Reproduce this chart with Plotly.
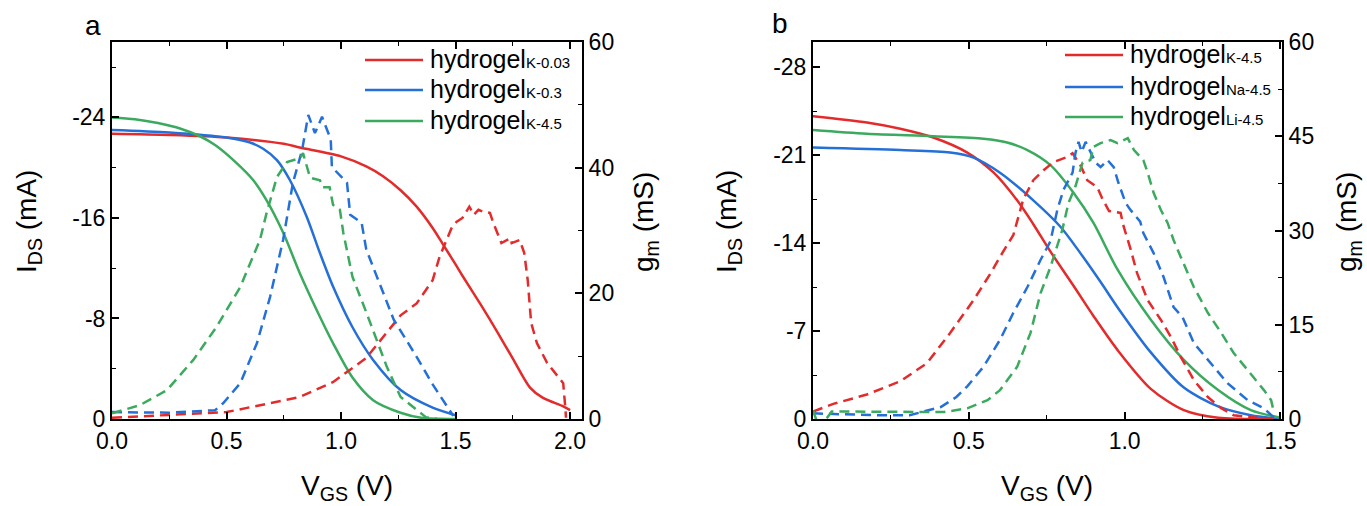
import plotly.graph_objects as go

# ---------------- Panel a data ----------------
# solid: I_DS (mA)
vgs_a_k003_ids = [0, 0.25, 0.5, 0.75, 0.82, 1.0, 1.11, 1.185, 1.26, 1.33, 1.40, 1.445, 1.5, 1.53, 1.61,
                  1.68, 1.75, 1.825, 1.88, 1.97, 2.0]
ids_a_k003 = [-22.7, -22.6, -22.4, -21.9, -21.6, -20.9, -20.1, -19.3, -18.2, -16.9, -15.2, -13.9, -12.3,
              -11.4, -9.1, -7.0, -4.8, -2.5, -1.7, -1.0, -0.7]

vgs_a_k03_ids = [0, 0.25, 0.5, 0.603, 0.66, 0.72, 0.777, 0.85, 0.908, 0.966, 1.05, 1.14, 1.26, 1.40, 1.5]
ids_a_k03 = [-23.0, -22.8, -22.4, -22.0, -21.5, -20.6, -19.0, -16.1, -13.2, -10.5, -7.3, -4.7, -2.3, -0.9, -0.3]

vgs_a_k45_ids = [0, 0.1, 0.2, 0.3, 0.384, 0.45, 0.53, 0.617, 0.675, 0.748, 0.82, 0.893, 0.966, 1.05, 1.14, 1.26,
                 1.35, 1.5]
ids_a_k45 = [-24.0, -23.85, -23.55, -23.1, -22.5, -21.8, -20.6, -19.0, -17.4, -14.8, -11.6, -8.7, -6.0, -3.3, -1.5,
             -0.5, -0.1, 0.0]

# dashed: g_m (mS)
vgs_a_k003_gm = [0, 0.24, 0.5, 0.82, 0.966, 1.11, 1.26, 1.33, 1.40, 1.43, 1.485, 1.505, 1.53, 1.56, 1.58, 1.60, 1.62,
                 1.65, 1.665, 1.70, 1.74, 1.745, 1.78, 1.80, 1.815, 1.83, 1.855, 1.90, 1.935, 1.97, 1.98, 1.982]
gm_a_k003 = [0.2, 0.6, 1.1, 3.5, 5.9, 9.7, 16.5, 18.4, 22.1, 25.8, 30.6, 31.4, 32.0, 33.8, 32.5, 33.3, 33.0,
             32.8, 31.2, 28.0, 28.8, 28.0, 28.5, 26.4, 22.1, 15.3, 12.1, 8.9, 7.3, 5.7, 1.4, 0.2]

vgs_a_k03_gm = [0, 0.25, 0.45, 0.485, 0.56, 0.633, 0.69, 0.747, 0.79, 0.83, 0.857, 0.886, 0.917, 0.955, 0.96,
                1.026, 1.04, 1.09, 1.11, 1.157, 1.23, 1.33, 1.40, 1.49]
gm_a_k03 = [1.1, 1.0, 1.4, 2.5, 5.7, 12.1, 19.4, 28.5, 37.6, 42.8, 48.4, 45.5, 48.1, 44.5, 40.1,
            37.6, 32.5, 31.2, 27.0, 22.6, 15.8, 9.9, 5.5, 0.5]

vgs_a_k45_gm = [0, 0.122, 0.24, 0.355, 0.457, 0.56, 0.646, 0.675, 0.72, 0.764, 0.82, 0.834, 0.865, 0.908, 0.92,
                0.95, 0.965, 0.995, 1.01, 1.05, 1.11, 1.20, 1.26, 1.37, 1.42]
gm_a_k45 = [0.9, 2.2, 4.6, 9.4, 14.7, 21.0, 28.5, 32.8, 38.5, 40.9, 41.5, 42.3, 38.4, 38.0, 36.9,
            36.9, 34.1, 33.3, 29.6, 22.6, 17.0, 8.3, 3.5, 0.3, 0.0]

# ---------------- Panel b data ----------------
vgs_b_k_ids = [0, 0.173, 0.28, 0.386, 0.495, 0.58, 0.655, 0.707, 0.76, 0.836, 0.90, 0.977, 1.084, 1.19, 1.30, 1.5]
ids_b_k = [-24.1, -23.6, -23.1, -22.4, -21.2, -19.6, -17.4, -15.5, -13.4, -10.6, -8.2, -5.5, -2.4, -0.7, -0.1, 0.0]

vgs_b_na_ids = [0, 0.28, 0.44, 0.515, 0.60, 0.707, 0.794, 0.858, 0.923, 0.977, 1.084, 1.19, 1.30, 1.405, 1.5]
ids_b_na = [-21.6, -21.4, -21.2, -20.8, -19.6, -17.4, -15.3, -13.2, -10.9, -8.9, -5.3, -2.5, -1.0, -0.3, 0.0]

vgs_b_li_ids = [0, 0.173, 0.386, 0.547, 0.623, 0.688, 0.762, 0.836, 0.90, 0.977, 1.084, 1.19, 1.30, 1.405, 1.5]
ids_b_li = [-23.0, -22.7, -22.5, -22.3, -22.0, -21.4, -20.2, -18.0, -15.6, -11.9, -7.9, -4.7, -2.3, -0.7, -0.1]

vgs_b_k_gm = [0, 0.065, 0.173, 0.28, 0.366, 0.44, 0.515, 0.57, 0.60, 0.643, 0.675, 0.707, 0.74, 0.772, 0.816, 0.833,
              0.858, 0.88, 0.912, 0.93, 0.95, 0.987, 0.997, 1.02, 1.04, 1.074, 1.116, 1.148, 1.18, 1.222, 1.267,
              1.31, 1.35, 1.44, 1.5]
gm_b_k = [1.2, 2.4, 3.9, 6.0, 8.9, 13.7, 18.9, 23.2, 25.8, 29.3, 35.0, 38.0, 39.6, 40.9, 41.7, 42.3,
          40.4, 38.0, 36.9, 34.9, 33.1, 32.8, 30.6, 26.9, 23.2, 18.9, 15.8, 13.1, 9.9, 6.2, 3.5,
          1.7, 0.6, 0.1, 0.0]

vgs_b_na_gm = [0, 0.1, 0.2, 0.31, 0.41, 0.46, 0.495, 0.547, 0.60, 0.643, 0.688, 0.73, 0.762, 0.784, 0.804, 0.833,
               0.842, 0.852, 0.862, 0.875, 0.907, 0.923, 0.945, 0.965, 0.98, 1.003, 1.02, 1.05, 1.06, 1.093,
               1.125, 1.157, 1.186, 1.222, 1.267, 1.33, 1.395, 1.447, 1.48]
gm_b_na = [0.9, 0.7, 0.6, 0.6, 1.9, 3.5, 5.2, 8.3, 12.6, 16.9, 21.0, 25.3, 28.3, 33.3, 36.5, 39.2,
           42.3, 44.1, 42.5, 44.1, 40.8, 40.1, 41.2, 40.1, 37.6, 34.4, 33.2, 31.4, 29.6, 26.4,
           22.6, 17.8, 16.2, 12.1, 9.4, 5.7, 3.0, 1.7, 0.2]

vgs_b_li_gm = [0, 0.02, 0.06, 0.15, 0.3, 0.42, 0.495, 0.56, 0.60, 0.655, 0.698, 0.73, 0.762, 0.80, 0.82, 0.842,
               0.865, 0.89, 0.90, 0.923, 0.955, 0.977, 1.01, 1.03, 1.06, 1.074, 1.093, 1.116, 1.138, 1.157,
               1.18, 1.222, 1.267, 1.31, 1.35, 1.395, 1.447, 1.47, 1.48]
gm_b_li = [1.4, -1.5, 1.2, 1.2, 1.1, 1.1, 1.7, 3.0, 4.6, 8.3, 13.7, 20.0, 24.2, 30.1, 34.4, 37.0,
           40.8, 41.2, 43.3, 43.9, 44.4, 43.9, 44.7, 42.8, 41.2, 39.2, 36.0, 33.3, 31.2, 28.5,
           25.8, 21.0, 16.9, 13.7, 10.5, 7.8, 4.6, 3.0, 0.9]

# labels / ticks
legend_a = ["K-0.03", "K-0.3", "K-4.5"]
legend_b = ["K-4.5", "Na-4.5", "Li-4.5"]
xticks_a = [0, 0.5, 1.0, 1.5, 2.0]
xticks_b = [0, 0.5, 1.0, 1.5]
ids_ticks_a = [0, -8, -16, -24]
ids_ticks_b = [0, -7, -14, -21, -28]
gm_ticks_a = [0, 20, 40, 60]
gm_ticks_b = [0, 15, 30, 45, 60]

RED, BLUE, GREEN = "#E42B2B", "#2470D8", "#3BAA5E"
COLORS = [RED, BLUE, GREEN]
FONT = "Arial, Liberation Sans, sans-serif"
W, H = 1367, 506


def px(x):
    return x / W


def py(y):
    return 1 - y / H


fig = go.Figure()

DASH = "10px,6px"
LW = 2.5

series_a = [
    (vgs_a_k003_ids, ids_a_k003, vgs_a_k003_gm, gm_a_k003),
    (vgs_a_k03_ids, ids_a_k03, vgs_a_k03_gm, gm_a_k03),
    (vgs_a_k45_ids, ids_a_k45, vgs_a_k45_gm, gm_a_k45),
]
series_b = [
    (vgs_b_k_ids, ids_b_k, vgs_b_k_gm, gm_b_k),
    (vgs_b_na_ids, ids_b_na, vgs_b_na_gm, gm_b_na),
    (vgs_b_li_ids, ids_b_li, vgs_b_li_gm, gm_b_li),
]

for (xs, ys, xg, yg), c, name in zip(series_a, COLORS, legend_a):
    fig.add_trace(go.Scatter(x=xg, y=yg, mode="lines", line=dict(color=c, width=LW, dash=DASH),
                             xaxis="x", yaxis="y2", showlegend=False, name=name + " gm"))
for (xs, ys, xg, yg), c, name in zip(series_a, COLORS, legend_a):
    fig.add_trace(go.Scatter(x=xs, y=ys, mode="lines", line=dict(color=c, width=LW, shape="spline", smoothing=0.8),
                             xaxis="x", yaxis="y", showlegend=False, name=name))
for (xs, ys, xg, yg), c, name in zip(series_b, COLORS, legend_b):
    fig.add_trace(go.Scatter(x=xg, y=yg, mode="lines", line=dict(color=c, width=LW, dash=DASH),
                             xaxis="x2", yaxis="y4", showlegend=False, name=name + " gm"))
for (xs, ys, xg, yg), c, name in zip(series_b, COLORS, legend_b):
    fig.add_trace(go.Scatter(x=xs, y=ys, mode="lines", line=dict(color=c, width=LW, shape="spline", smoothing=0.8),
                             xaxis="x2", yaxis="y3", showlegend=False, name=name))

tickfont = dict(family=FONT, size=23, color="black")
common = dict(showline=True, linecolor="black", linewidth=2, ticks="inside", ticklen=7, tickwidth=1.6,
              tickcolor="black", showgrid=False, zeroline=False, tickfont=tickfont, automargin=False)


def minor(d):
    return dict(ticks="inside", ticklen=4, dtick=d, tick0=0, tickcolor="black", tickwidth=1.4)


def labels(vals, fmt="{:g}"):
    return [fmt.format(v) for v in vals]


dom_a = [px(112), px(582)]
dom_b = [px(813), px(1282)]
dom_y = [py(419), py(42)]

fig.update_layout(
    width=W, height=H, margin=dict(l=0, r=0, t=0, b=0, pad=0, autoexpand=False),
    paper_bgcolor="white", plot_bgcolor="white",
    xaxis=dict(domain=dom_a, range=[0, 2.052], anchor="y", tickvals=xticks_a, ticktext=labels(xticks_a, "{:.1f}"),
               mirror="ticks", minor=minor(0.25), **common),
    yaxis=dict(domain=dom_y, range=[0, -30], anchor="x", tickvals=ids_ticks_a, ticktext=labels(ids_ticks_a),
               minor=minor(4), **common),
    yaxis2=dict(domain=dom_y, range=[0, 60], anchor="x", overlaying="y", side="right", tickvals=gm_ticks_a,
                ticktext=labels(gm_ticks_a), minor=minor(10), **common),
    xaxis2=dict(domain=dom_b, range=[0, 1.505], anchor="y3", tickvals=xticks_b, ticktext=labels(xticks_b, "{:.1f}"),
                mirror="ticks", minor=minor(0.25), **common),
    yaxis3=dict(domain=dom_y, range=[0, -30], anchor="x2", tickvals=ids_ticks_b, ticktext=labels(ids_ticks_b),
                minor=minor(3.5), **common),
    yaxis4=dict(domain=dom_y, range=[0, 60], anchor="x2", overlaying="y3", side="right", tickvals=gm_ticks_b,
                ticktext=labels(gm_ticks_b), minor=minor(7.5), **common),
)

annots = []
shapes = []
tfont = dict(family=FONT, size=28, color="black")


def ann(x, y, text, font, **kw):
    d = dict(x=px(x), y=py(y), text=text, showarrow=False, font=font, xref="paper", yref="paper",
             xanchor="center", yanchor="middle")
    d.update(kw)
    annots.append(d)


# panel labels
ann(93, 25, "a", tfont)
ann(780, 24, "b", tfont)

# axis titles
for cx, lx, rx in [(347, 28, 645), (1047, 728, 1348)]:
    ann(cx, 487, "V<sub>GS</sub> (V)", tfont)
    ann(lx, 222, "I<sub>DS</sub> (mA)", tfont, textangle=-90)
    ann(rx, 222, "g<sub>m</sub> (mS)", tfont, textangle=-90)

# legends
lfont = dict(family=FONT, size=25, color="black")
for names, x0, x1, tx, rows in [(legend_a, 365, 423, 428, [60, 90, 121]),
                                 (legend_b, 1065, 1123, 1128, [55, 87, 117])]:
    for name, c, yr in zip(names, COLORS, rows):
        shapes.append(dict(type="line", xref="paper", yref="paper", x0=px(x0), x1=px(x1), y0=py(yr), y1=py(yr),
                           line=dict(color=c, width=LW)))
        ann(tx, yr - 1, "hydrogel<span style='font-size:15px'>" + name + "</span>", lfont, xanchor="left")

fig.update_layout(annotations=annots, shapes=shapes)
fig.write_html("out.html")
